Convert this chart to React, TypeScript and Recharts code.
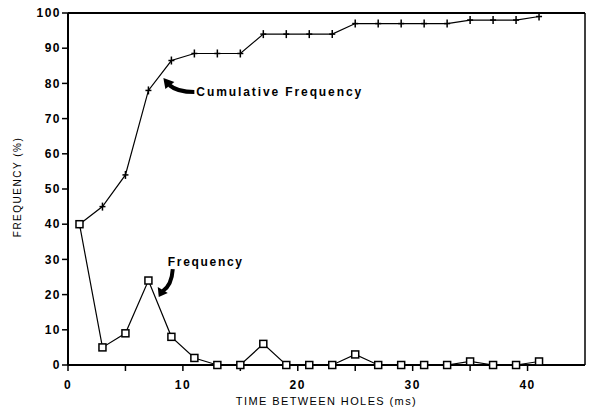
import { LineChart, Line, XAxis, YAxis, ReferenceLine, ReferenceDot } from 'recharts'

// time between holes (ms), odd bins
const times = [1, 3, 5, 7, 9, 11, 13, 15, 17, 19, 21, 23, 25, 27, 29, 31, 33, 35, 37, 39, 41]
const frequency = [40, 5, 9, 24, 8, 2, 0, 0, 6, 0, 0, 0, 3, 0, 0, 0, 0, 1, 0, 0, 1]
const cumulative = [40, 45, 54, 78, 86.5, 88.5, 88.5, 88.5, 94, 94, 94, 94, 97, 97, 97, 97, 97, 98, 98, 98, 99]
const xTicks = [0, 5, 10, 15, 20, 25, 30, 35, 40]
const yTicks = [0, 10, 20, 30, 40, 50, 60, 70, 80, 90, 100]

const data = times.map((t, i) => ({ t, freq: frequency[i], cum: cumulative[i] }))

const FONT = '"Liberation Sans", Arial, Helvetica, sans-serif'

const CrossDot = (props: any) => {
  const { cx, cy, index } = props
  return (
    <g key={`c-${index}`}>
      <line x1={cx} y1={cy - 4} x2={cx} y2={cy + 4} stroke="#000" strokeWidth={1.5} />
      <line x1={cx - 3} y1={cy} x2={cx + 3} y2={cy} stroke="#000" strokeWidth={1.5} />
    </g>
  )
}

const SquareDot = (props: any) => {
  const { cx, cy, index } = props
  return (
    <rect key={`s-${index}`} x={cx - 3.5} y={cy - 3.5} width={7} height={7} fill="#fff" stroke="#000" strokeWidth={1.5} />
  )
}

// arrow + text pointing at the cumulative curve
const CumArrow = (props: any) => {
  const { cx, cy } = props
  return (
    <g>
      <path d={`M${cx + 31},${cy + 14} Q${cx + 14},${cy + 14} ${cx + 6},${cy + 7}`} stroke="#000" strokeWidth={4} fill="none" />
      <path d={`M${cx},${cy} L${cx + 2},${cy + 11} L${cx + 11},${cy + 4} Z`} fill="#000" />
      <text x={cx + 33} y={cy + 18} fontFamily={FONT} fontWeight="bold" fontSize={12} letterSpacing={1.9} fill="#000">
        Cumulative Frequency
      </text>
    </g>
  )
}

// arrow + text pointing at the frequency curve
const FreqArrow = (props: any) => {
  const { cx, cy } = props
  return (
    <g>
      <path d={`M${cx + 14},${cy - 28} Q${cx + 13},${cy - 12} ${cx + 4},${cy - 6}`} stroke="#000" strokeWidth={4} fill="none" />
      <path d={`M${cx},${cy} L${cx - 1},${cy - 10} L${cx + 9},${cy - 4} Z`} fill="#000" />
      <text x={cx + 9} y={cy - 31} fontFamily={FONT} fontWeight="bold" fontSize={12} letterSpacing={1.7} fill="#000">
        Frequency
      </text>
    </g>
  )
}

const YTitle = (props: any) => {
  const { viewBox } = props
  const x = viewBox.x + 17
  const y = viewBox.y + viewBox.height / 2 - 2
  return (
    <text x={x} y={y} transform={`rotate(-90 ${x} ${y})`} textAnchor="middle" dominantBaseline="central"
      fontFamily={FONT} fontSize={10} letterSpacing={1.5} fill="#000">
      FREQUENCY (%)
    </text>
  )
}

const XTitle = (props: any) => {
  const { viewBox } = props
  return (
    <text x={viewBox.x + viewBox.width / 2} y={viewBox.y + 40} textAnchor="middle"
      fontFamily={FONT} fontSize={11} letterSpacing={1.4} fill="#000">
      TIME BETWEEN HOLES (ms)
    </text>
  )
}

export default function App() {
  const tickStyle = { fill: '#000', fontSize: 12, fontWeight: 'bold', fontFamily: FONT, letterSpacing: 1.5 }
  return (
    <div style={{ position: 'absolute', left: 0, top: 0, width: 595, height: 409, background: '#fff' }}>
      <LineChart width={595} height={409} data={data} margin={{ top: 13, right: 10, bottom: 0, left: 0 }}>
        <XAxis
          dataKey="t"
          type="number"
          domain={[0, 45]}
          ticks={xTicks}
          tickFormatter={(v: number) => (v % 10 === 0 ? String(v) : '')}
          height={44}
          tickSize={6}
          tickMargin={9}
          axisLine={{ stroke: '#000', strokeWidth: 2 }}
          tickLine={{ stroke: '#000', strokeWidth: 1.5 }}
          tick={tickStyle}
          label={<XTitle />}
        />
        <YAxis
          type="number"
          domain={[0, 100]}
          ticks={yTicks}
          width={68}
          tickSize={6}
          tickMargin={1}
          axisLine={{ stroke: '#000', strokeWidth: 2 }}
          tickLine={{ stroke: '#000', strokeWidth: 1.5 }}
          tick={tickStyle}
          label={<YTitle />}
        />
        <ReferenceLine y={100} stroke="#000" strokeWidth={2} />
        <ReferenceLine x={45} stroke="#000" strokeWidth={1.5} />
        <Line dataKey="cum" stroke="#000" strokeWidth={1.2} dot={CrossDot} isAnimationActive={false} />
        <Line dataKey="freq" stroke="#000" strokeWidth={1.2} dot={SquareDot} isAnimationActive={false} />
        <ReferenceDot x={8.3} y={81.5} r={0} shape={CumArrow} />
        <ReferenceDot x={7.9} y={19.3} r={0} shape={FreqArrow} />
      </LineChart>
    </div>
  )
}
